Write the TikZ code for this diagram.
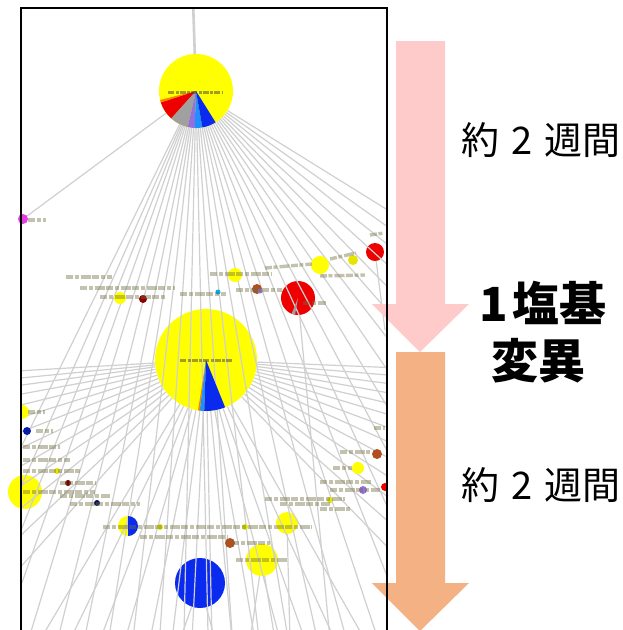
\documentclass[tikz,border=0pt]{standalone}
\usepackage{fontspec}
\newfontfamily\cjk{Noto Sans CJK JP}
\usetikzlibrary{calc}
\definecolor{pinkarrow}{HTML}{FFCACA}
\definecolor{orangearrow}{HTML}{F4B183}
\definecolor{nodeyellow}{HTML}{FFFF00}
\definecolor{nodered}{HTML}{EE0000}
\definecolor{nodeblue}{HTML}{0A2AF0}
\definecolor{lightblue}{HTML}{1E90FF}
\definecolor{nodegray}{HTML}{A0A0A0}
\definecolor{nodepurple}{HTML}{9370DB}
\definecolor{nodebrown}{HTML}{B0501E}
\definecolor{nodemagenta}{HTML}{E040E0}
\definecolor{edgegray}{HTML}{D0D0D0}
\definecolor{labelsmudge}{HTML}{6E6E40}
\begin{document}
\begin{tikzpicture}[x=1pt,y=-1pt,
  edge/.style={draw=edgegray, line width=1.2pt},
  smudge/.style={draw=labelsmudge, line width=3.4pt, opacity=0.42, dash pattern=on 7pt off 1.5pt on 4pt off 2pt on 10pt off 1.5pt},
  darksmudge/.style={draw=black!75, line width=3pt, opacity=0.5, dash pattern=on 6pt off 1.5pt on 3pt off 1pt},
  dot/.style={circle, inner sep=0pt, draw=none}]
\useasboundingbox (0,0) rectangle (623,630);
\fill[white] (0,0) rectangle (623,630);

% named graph nodes
\node[dot, fill=nodeyellow, minimum size=74pt] (top) at (196,91) {};
\node[dot, fill=nodeyellow, minimum size=102pt] (big) at (206,360) {};
\node[dot, fill=nodemagenta, minimum size=10pt] (pinknode) at (23,219) {};
\node[dot, fill=nodered, minimum size=34pt] (redbig) at (298,298) {};
\node[dot, fill=nodered, minimum size=18pt] (redsmall) at (375,252) {};
\node[dot, fill=nodeblue, minimum size=50pt] (bluebig) at (200,583) {};
\node[dot, fill=nodeyellow, minimum size=32pt] (ylow) at (262,560) {};
\node[dot, fill=nodeyellow, minimum size=22pt] (ymid) at (287,523) {};
\node[dot, fill=nodeyellow, minimum size=34pt] (yleft) at (25,492) {};
\node[dot, fill=nodeyellow, minimum size=20pt] (halfblue) at (128,526) {};

\begin{scope}
\clip (21,8) rectangle (387,640);
% edges from the top node
\draw[edge, line width=2.6pt] (top) -- (193,0);
\foreach \x in {85,96,106,116,127,139,150,160,170,181,191,201,211,222,234,246,258,271,285,300,316,333,351,371,393,417,445,478,515,560}
  \draw[edge] (top) -- ($(top)!3!(\x,317)$);
\draw[edge] (top) -- (pinknode);
% edges from the big yellow node
\foreach \y in {372,380,388,398,410,424,440,458,478,500,525,555,590}
  \draw[edge] (big) -- (0,\y);
\foreach \y in {368,376,385,395,406,418,432,447,464,484,506,532,560}
  \draw[edge] (big) -- (400,\y);
\foreach \x in {40,70,100,125,150,172,192,212,232,255,280,305,335,365}
  \draw[edge] (big) -- (\x,640);
% a few edges from lower nodes
\draw[edge] (bluebig) -- (180,640);
\draw[edge] (bluebig) -- (215,640);
\draw[edge] (ylow) -- (250,640);
\draw[edge] (ylow) -- (275,640);
\draw[edge] (ymid) -- (290,640);
\draw[edge] (redbig) -- (330,640);
\draw[edge] (redsmall) -- (385,330);

% pie slices of the top node
\fill[nodered] (top.center) -- ++(162:37) arc[start angle=162, end angle=132, radius=37] -- cycle;
\fill[orange] (top.center) -- ++(166:37) arc[start angle=166, end angle=162, radius=37] -- cycle;
\fill[nodegray] (top.center) -- ++(132:37) arc[start angle=132, end angle=103, radius=37] -- cycle;
\fill[nodepurple] (top.center) -- ++(103:37) arc[start angle=103, end angle=92, radius=37] -- cycle;
\fill[lightblue] (top.center) -- ++(92:37) arc[start angle=92, end angle=80, radius=37] -- cycle;
\fill[nodeblue] (top.center) -- ++(80:37) arc[start angle=80, end angle=58, radius=37] -- cycle;
% pie slices of the big node
\fill[orange] (big.center) -- ++(99:51) arc[start angle=99, end angle=97, radius=51] -- cycle;
\fill[lightblue] (big.center) -- ++(97:51) arc[start angle=97, end angle=92, radius=51] -- cycle;
\fill[nodeblue] (big.center) -- ++(92:51) arc[start angle=92, end angle=68, radius=51] -- cycle;
% other slices
\fill[nodegray] (redbig.center) -- ++(112:17) arc[start angle=112, end angle=100, radius=17] -- cycle;
\fill[nodeblue] (halfblue.center) -- ++(-90:10) arc[start angle=-90, end angle=90, radius=10] -- cycle;

% small nodes
\fill[nodeyellow] (120,298) circle[radius=6];
\fill[nodered!60!black] (143,299) circle[radius=4];
\fill[nodeyellow] (235,275) circle[radius=7];
\fill[nodeyellow] (320,265) circle[radius=9];
\fill[nodeyellow!80!olive] (353,260) circle[radius=5];
\fill[nodebrown] (257,289) circle[radius=5];
\fill[nodepurple] (260,291) circle[radius=2.5];
\fill[cyan] (218,292) circle[radius=2.5];
\fill[nodeyellow] (22,412) circle[radius=7];
\fill[nodeblue!70!black] (27,431) circle[radius=4];
\fill[nodered!50!black] (68,483) circle[radius=3];
\fill[nodeblue!40!black] (97,503) circle[radius=3];
\fill[nodebrown] (230,543) circle[radius=5];
\fill[nodebrown] (377,454) circle[radius=5];
\fill[nodeyellow] (358,468) circle[radius=6];
\fill[nodepurple] (363,490) circle[radius=4];
\fill[nodered] (385,487) circle[radius=4];
\fill[nodeyellow!80!olive] (57,471) circle[radius=3];
\fill[nodeyellow!80!olive] (160,527) circle[radius=3];
\fill[nodeyellow!80!olive] (245,527) circle[radius=3];
\fill[nodeyellow!80!olive] (330,500) circle[radius=3];

% illegible labels (blurred)
\draw[darksmudge] (168,92) -- (222,92);
\draw[darksmudge] (180,360) -- (232,360);
\draw[smudge] (28,220) -- (46,220);
\draw[smudge] (66,277) -- (112,277);
\draw[smudge] (80,288) -- (175,288);
\draw[smudge] (100,297) -- (165,297);
\draw[smudge] (180,294) -- (226,294);
\draw[smudge] (210,274) -- (272,274);
\draw[smudge] (265,268) -- (312,264);
\draw[smudge] (320,276) -- (365,275);
\draw[smudge] (330,259) -- (356,253);
\draw[smudge] (236,290) -- (282,290);
\draw[smudge] (303,303) -- (326,303);
\draw[smudge] (370,235) -- (384,233);
\draw[smudge] (28,412) -- (45,412);
\draw[smudge] (36,431) -- (53,431);
\draw[smudge] (23,447) -- (60,447);
\draw[smudge] (23,460) -- (70,460);
\draw[smudge] (23,471) -- (80,471);
\draw[smudge] (60,483) -- (95,483);
\draw[smudge] (23,492) -- (95,492);
\draw[smudge] (60,496) -- (110,496);
\draw[smudge] (70,504) -- (140,504);
\draw[smudge] (103,527) -- (312,527);
\draw[smudge] (140,537) -- (227,537);
\draw[smudge] (232,543) -- (270,543);
\draw[smudge] (236,560) -- (287,560);
\draw[smudge] (340,452) -- (370,452);
\draw[smudge] (333,468) -- (352,468);
\draw[smudge] (320,482) -- (372,482);
\draw[smudge] (330,490) -- (380,490);
\draw[smudge] (265,499) -- (345,499);
\draw[smudge] (280,504) -- (330,504);
\draw[smudge] (320,509) -- (350,509);
\draw[smudge] (374,428) -- (385,428);
\end{scope}

% arrows
\fill[pinkarrow] (396,41) -- (445,41) -- (445,304) -- (469,304) -- (420,352) -- (372,304) -- (396,304) -- cycle;
\fill[orangearrow] (396,352) -- (445,352) -- (445,583) -- (469,583) -- (420,631) -- (372,583) -- (396,583) -- cycle;

% frame
\draw[black, line width=1.6pt] (21,640) -- (21,8) -- (387,8) -- (387,640);

% texts
\node[font=\cjk\fontsize{38}{42}\selectfont] (t1) at (541,140) {約\hspace{12pt}2\hspace{12pt}週間};
\node[font=\cjk\fontsize{38}{42}\selectfont] (t2) at (541,485) {約\hspace{12pt}2\hspace{12pt}週間};
\node[font=\cjk\bfseries\fontsize{47}{50}\selectfont] (t3) at (543,303) {1\hspace{4pt}塩基};
\node[font=\cjk\bfseries\fontsize{47}{50}\selectfont] (t4) at (538,361) {変異};
\end{tikzpicture}
\end{document}
